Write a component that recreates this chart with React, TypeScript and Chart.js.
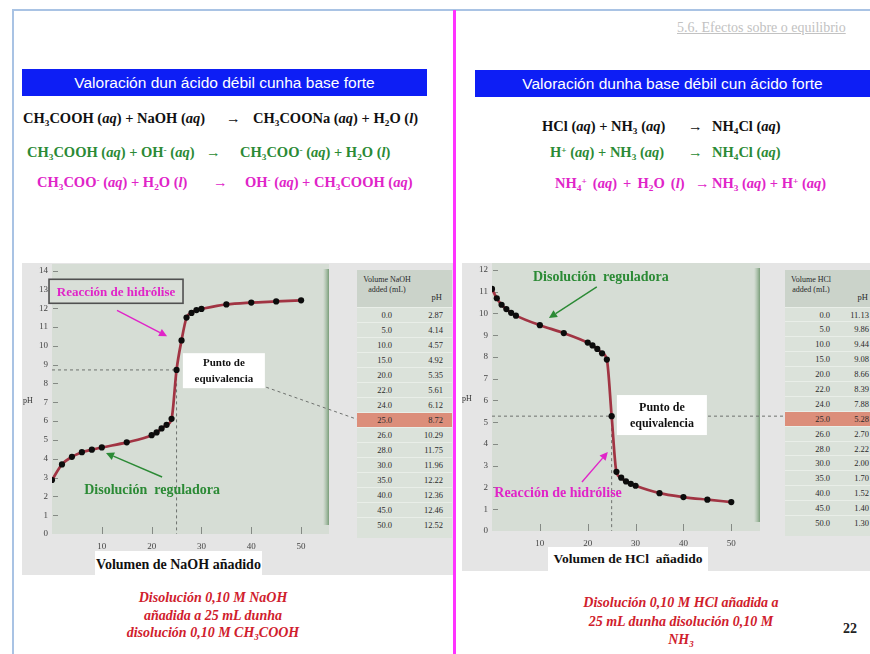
import React, { useEffect, useRef } from 'react';
import { Chart, registerables } from 'chart.js';

Chart.register(...registerables);

// ---------------- data ----------------
const acidVolumes = [0, 2, 4, 6, 8, 10, 15, 20, 21, 22, 23, 24, 25, 26, 27, 28, 29, 30, 35, 40, 45, 50];
const acidPH = [2.87, 3.7, 4.1, 4.35, 4.48, 4.6, 4.87, 5.25, 5.4, 5.61, 5.8, 6.12, 8.72, 10.29, 11.5, 11.75, 11.9, 11.96, 12.2, 12.3, 12.36, 12.42];

const baseVolumes = [0, 1, 2, 3, 4, 5, 10, 15, 20, 21, 22, 23, 24, 25, 26, 27, 28, 29, 30, 35, 40, 45, 50];
const basePH = [11.13, 10.7, 10.4, 10.2, 10.03, 9.9, 9.46, 9.1, 8.66, 8.53, 8.37, 8.17, 7.88, 5.28, 2.72, 2.45, 2.28, 2.17, 2.08, 1.74, 1.56, 1.44, 1.33];

const tableVolumes = ['0.0', '5.0', '10.0', '15.0', '20.0', '22.0', '24.0', '25.0', '26.0', '28.0', '30.0', '35.0', '40.0', '45.0', '50.0'];
const acidTablePH = ['2.87', '4.14', '4.57', '4.92', '5.35', '5.61', '6.12', '8.72', '10.29', '11.75', '11.96', '12.22', '12.36', '12.46', '12.52'];
const baseTablePH = ['11.13', '9.86', '9.44', '9.08', '8.66', '8.39', '7.88', '5.28', '2.70', '2.22', '2.00', '1.70', '1.52', '1.40', '1.30'];
const equivalenceRow = 7;

const equivalenceVolume = 25;
const acidEquivalencePH = 8.72;
const baseEquivalencePH = 5.28;
const xTickStep = 10;
const yTickStep = 1;

// ---------------- styles ----------------
const SERIF = '"Liberation Serif", "Times New Roman", serif';
const SANS = '"Liberation Sans", Arial, sans-serif';
const PLOT_BG = '#d6ddd5';
const PANEL_BG = '#e5e5e5';
const CURVE = '#a13443';
const GREEN = '#2b8a35';
const MAGENTA = '#e024c8';
const DASH = '#6e716e';

type Px = (v: number) => number;

function arrow(ctx: CanvasRenderingContext2D, x1: number, y1: number, x2: number, y2: number, color: string) {
  const ang = Math.atan2(y2 - y1, x2 - x1);
  const hl = 8, hw = 4;
  ctx.save();
  ctx.strokeStyle = color;
  ctx.fillStyle = color;
  ctx.lineWidth = 1.4;
  ctx.beginPath();
  ctx.moveTo(x1, y1);
  ctx.lineTo(x2 - Math.cos(ang) * hl, y2 - Math.sin(ang) * hl);
  ctx.stroke();
  ctx.beginPath();
  ctx.moveTo(x2, y2);
  ctx.lineTo(x2 - Math.cos(ang) * hl - Math.sin(ang) * hw, y2 - Math.sin(ang) * hl + Math.cos(ang) * hw);
  ctx.lineTo(x2 - Math.cos(ang) * hl + Math.sin(ang) * hw, y2 - Math.sin(ang) * hl - Math.cos(ang) * hw);
  ctx.closePath();
  ctx.fill();
  ctx.restore();
}

function dashed(ctx: CanvasRenderingContext2D, pts: number[][]) {
  ctx.save();
  ctx.strokeStyle = DASH;
  ctx.lineWidth = 1;
  ctx.setLineDash([3, 3]);
  ctx.beginPath();
  ctx.moveTo(pts[0][0], pts[0][1]);
  for (let i = 1; i < pts.length; i++) ctx.lineTo(pts[i][0], pts[i][1]);
  ctx.stroke();
  ctx.restore();
}

function label(ctx: CanvasRenderingContext2D, text: string, x: number, y: number, color: string, size: number, weight = 'bold') {
  ctx.save();
  ctx.fillStyle = color;
  ctx.font = `${weight} ${size}px ${SERIF}`;
  ctx.textAlign = 'center';
  ctx.textBaseline = 'middle';
  ctx.fillText(text, x, y);
  ctx.restore();
}

function box(ctx: CanvasRenderingContext2D, cx: number, cy: number, w: number, h: number, fill: string, stroke?: string) {
  ctx.save();
  ctx.fillStyle = fill;
  ctx.fillRect(cx - w / 2, cy - h / 2, w, h);
  if (stroke) {
    ctx.strokeStyle = stroke;
    ctx.lineWidth = 1.6;
    ctx.strokeRect(cx - w / 2, cy - h / 2, w, h);
  }
  ctx.restore();
}

type Drawer = (ctx: CanvasRenderingContext2D, px: Px, py: Px, a: any) => void;

function notesPlugin(id: string, under: Drawer, over: Drawer) {
  return {
    id,
    beforeDraw(chart: any) {
      const { ctx, chartArea: a, scales } = chart;
      const xs = scales.x, ys = scales.y;
      ctx.save();
      ctx.fillStyle = PLOT_BG;
      ctx.fillRect(a.left, a.top, a.right - a.left, a.bottom - a.top);
      const g = ctx.createLinearGradient(a.right - 6, 0, a.right, 0);
      g.addColorStop(0, 'rgba(140,175,140,0)');
      g.addColorStop(1, 'rgba(105,145,105,0.85)');
      ctx.fillStyle = g;
      ctx.fillRect(a.right - 6, a.top + 5, 6, a.bottom - a.top - 14);
      ctx.strokeStyle = '#858a85';
      ctx.lineWidth = 1;
      for (const t of ys.ticks) {
        if (t.value === 0) continue;
        const yy = Math.round(ys.getPixelForValue(t.value)) + 0.5;
        ctx.beginPath();
        ctx.moveTo(a.left + 1, yy);
        ctx.lineTo(a.left + 6, yy);
        ctx.stroke();
      }
      for (const t of xs.ticks) {
        if (t.value === 0) continue;
        const xx = Math.round(xs.getPixelForValue(t.value)) + 0.5;
        ctx.beginPath();
        ctx.moveTo(xx, a.bottom);
        ctx.lineTo(xx, a.bottom - 7);
        ctx.stroke();
      }
      ctx.restore();
    },
    beforeDatasetsDraw(chart: any) {
      const { ctx, chartArea: a, scales } = chart;
      under(ctx, (v) => scales.x.getPixelForValue(v), (v) => scales.y.getPixelForValue(v), a);
    },
    afterDraw(chart: any) {
      const { ctx, chartArea: a, scales } = chart;
      over(ctx, (v) => scales.x.getPixelForValue(v), (v) => scales.y.getPixelForValue(v), a);
    },
  };
}

const tickFont = { family: SERIF, size: 9 };

function buildConfig(o: {
  id: string; vols: number[]; ph: number[]; xMax: number; yMax: number;
  padTop: number; padRight: number; xHeight: number; under: Drawer; over: Drawer;
}) {
  return {
    type: 'line',
    data: {
      datasets: [{
        data: o.vols.map((v, i) => ({ x: v, y: o.ph[i] })),
        borderColor: CURVE,
        borderWidth: 2.7,
        pointRadius: 3.1,
        pointHoverRadius: 3.1,
        pointBackgroundColor: '#0c0c0c',
        pointBorderColor: '#0c0c0c',
        pointBorderWidth: 0,
        cubicInterpolationMode: 'monotone',
        fill: false,
      }],
    },
    options: {
      animation: false,
      responsive: false,
      events: [],
      layout: { padding: { left: 0, top: o.padTop, right: o.padRight, bottom: 0 } },
      plugins: { legend: { display: false }, tooltip: { enabled: false } },
      scales: {
        x: {
          type: 'linear', min: 0, max: o.xMax,
          border: { display: false },
          grid: { display: false, drawTicks: false },
          ticks: {
            stepSize: xTickStep, includeBounds: false, autoSkip: false, maxRotation: 0,
            padding: 7, color: '#444', font: tickFont,
            callback: (v: number) => (v === 0 ? '' : String(v)),
          },
          afterFit: (s: any) => { s.height = o.xHeight; },
        },
        y: {
          type: 'linear', min: 0, max: o.yMax,
          border: { display: false },
          grid: { display: false, drawTicks: false },
          ticks: { stepSize: yTickStep, includeBounds: false, autoSkip: false, padding: 4, color: '#444', font: tickFont },
          afterFit: (s: any) => { s.width = 30; },
        },
      },
    },
    plugins: [notesPlugin(o.id, o.under, o.over)],
  };
}

const acidUnder: Drawer = (ctx, px, py) => {
  dashed(ctx, [[px(0), py(acidEquivalencePH)], [px(equivalenceVolume), py(acidEquivalencePH)], [px(equivalenceVolume), py(0)]]);
};
const acidOver: Drawer = (ctx, px, py, a) => {
  box(ctx, px(12.85), py(12.9), 134, 24, '#d9dfd8', '#505050');
  label(ctx, 'Reacción de hidrólise', px(12.85), py(12.9) + 1, MAGENTA, 13);
  arrow(ctx, px(13.05), py(11.89), px(23.1), py(10.51), MAGENTA);
  dashed(ctx, [[px(43.0), py(7.8)], [px(61.2), py(6.1)]]);
  box(ctx, px(34.5), py(8.68), 82, 35, '#ffffff');
  label(ctx, 'Punto de', px(34.5), py(8.68) - 7.5, '#111', 11);
  label(ctx, 'equivalencia', px(34.5), py(8.68) + 8.5, '#111', 11);
  label(ctx, 'Disolución  reguladora', px(20.1), py(2.34), GREEN, 14);
  arrow(ctx, px(22.1), py(3.03), px(10.84), py(4.3), GREEN);
  label(ctx, 'pH', a.left - 24, py(7.1), '#333', 8, 'normal');
};

const baseUnder: Drawer = (ctx, px, py) => {
  dashed(ctx, [[px(0), py(baseEquivalencePH)], [px(61.2), py(baseEquivalencePH)]]);
  dashed(ctx, [[px(equivalenceVolume), py(baseEquivalencePH)], [px(equivalenceVolume), py(0)]]);
};
const baseOver: Drawer = (ctx, px, py, a) => {
  box(ctx, px(35.5), py(5.33), 90, 40, '#ffffff');
  label(ctx, 'Punto de', px(35.5), py(5.33) - 7, '#111', 12);
  label(ctx, 'equivalencia', px(35.5), py(5.33) + 8.5, '#111', 12);
  label(ctx, 'Disolución  reguladora', px(22.75), py(11.68), GREEN, 14);
  arrow(ctx, px(21.9), py(11.22), px(11.9), py(9.79), GREEN);
  label(ctx, 'Reacción de hidrólise', px(13.8), py(1.75), MAGENTA, 14);
  arrow(ctx, px(18.8), py(2.25), px(24.2), py(3.63), MAGENTA);
  label(ctx, 'pH', a.left - 25, py(6.07), '#333', 8, 'normal');
};

function ChartCanvas(props: { left: number; top: number; width: number; height: number; make: () => any }) {
  const ref = useRef<HTMLCanvasElement>(null);
  useEffect(() => {
    const chart = new Chart(ref.current as HTMLCanvasElement, props.make());
    return () => chart.destroy();
  }, []);
  return (
    <canvas
      ref={ref}
      width={props.width}
      height={props.height}
      style={{ position: 'absolute', left: props.left, top: props.top, width: props.width, height: props.height }}
    />
  );
}

const Sub = ({ c }: { c: string }) => <span style={{ fontSize: '0.64em', position: 'relative', top: '0.3em' }}>{c}</span>;
const Sup = ({ c }: { c: string }) => <span style={{ fontSize: '0.64em', position: 'relative', top: '-0.45em' }}>{c}</span>;
const Aq = () => <>(<i>aq</i>)</>;
const Liq = () => <>(<i>l</i>)</>;

function Eq({ y, color, parts }: { y: number; color: string; parts: [number, React.ReactNode, number?][] }) {
  return (
    <>
      {parts.map(([x, node, ws], i) => (
        <span key={i} style={{ position: 'absolute', left: x, top: y - 10, lineHeight: '20px', color, fontWeight: 'bold', fontSize: 14.5, fontFamily: SERIF, whiteSpace: 'nowrap', wordSpacing: ws ? ws + 'px' : undefined }}>
          {node}
        </span>
      ))}
    </>
  );
}

function DataTable(props: { left: number; top: number; header: [string, string]; headerW: number; volRight: number; phRight: number; phHeadRight: number; rowH: number; values: string[] }) {
  const W = 95;
  return (
    <div style={{ position: 'absolute', left: props.left, top: props.top, width: W, background: '#dbe2da', paddingBottom: 6, fontFamily: SERIF, color: '#2a2a2a' }}>
      <div style={{ position: 'relative', height: 36.5, background: '#cbd3ca' }}>
        <div style={{ position: 'absolute', left: 0, width: props.headerW, top: 4.5, textAlign: 'center', lineHeight: '10px', fontSize: 8 }}>
          {props.header[0]}<br />{props.header[1]}
        </div>
        <div style={{ position: 'absolute', right: props.phHeadRight, top: 22, lineHeight: '10px', fontSize: 8.5 }}>pH</div>
      </div>
      {tableVolumes.map((v, i) => (
        <div key={v} style={{ position: 'relative', height: props.rowH, boxSizing: 'border-box', borderTop: '1px solid #e9eee8', background: i === equivalenceRow ? '#dc8e7a' : 'transparent', fontSize: 8.5 }}>
          <span style={{ position: 'absolute', right: W - props.volRight, top: 0, lineHeight: props.rowH + 'px' }}>{v}</span>
          <span style={{ position: 'absolute', right: W - props.phRight, top: 0, lineHeight: props.rowH + 'px' }}>{props.values[i]}</span>
        </div>
      ))}
    </div>
  );
}

export default function App() {
  return (
    <div style={{ position: 'absolute', left: 0, top: 0, width: 870, height: 654, overflow: 'hidden', background: '#fff', fontFamily: SERIF }}>
      {/* frame */}
      <div style={{ position: 'absolute', left: 12, top: 9, width: 858, height: 2, background: '#a9c3e4' }} />
      <div style={{ position: 'absolute', left: 12, top: 9, width: 2, height: 645, background: '#a9c3e4' }} />
      <div style={{ position: 'absolute', left: 453, top: 10, width: 3, height: 644, background: '#ff33ff' }} />

      <div style={{ position: 'absolute', left: 677, top: 19, fontSize: 14, color: '#c2c2c2', textDecoration: 'underline', whiteSpace: 'nowrap', lineHeight: '18px' }}>
        5.6. Efectos sobre o equilibrio
      </div>

      {/* title bars */}
      <div style={{ position: 'absolute', left: 22, top: 69, width: 405, height: 27, background: '#0d1ef5', color: '#fff', fontFamily: SANS, fontSize: 15.5, lineHeight: '27px', textAlign: 'center' }}>
        Valoración dun ácido débil cunha base forte
      </div>
      <div style={{ position: 'absolute', left: 475, top: 70, width: 395, height: 27, background: '#0d1ef5', color: '#fff', fontFamily: SANS, fontSize: 15.5, lineHeight: '27px', textAlign: 'center' }}>
        Valoración dunha base débil cun ácido forte
      </div>

      {/* left equations */}
      <Eq y={118} color="#111" parts={[
        [23, <>CH<Sub c="3" />COOH <Aq /> + NaOH <Aq /></>],
        [226, <>→</>],
        [253, <>CH<Sub c="3" />COONa <Aq /> + H<Sub c="2" />O <Liq /></>],
      ]} />
      <Eq y={152} color={GREEN} parts={[
        [27, <>CH<Sub c="3" />COOH <Aq /> + OH<Sup c="-" /> <Aq /></>],
        [206, <>→</>],
        [240, <>CH<Sub c="3" />COO<Sup c="-" /> <Aq /> + H<Sub c="2" />O <Liq /></>],
      ]} />
      <Eq y={182} color={MAGENTA} parts={[
        [37, <>CH<Sub c="3" />COO<Sup c="-" /> <Aq /> + H<Sub c="2" />O <Liq /></>],
        [213, <>→</>],
        [245, <>OH<Sup c="-" /> <Aq /> + CH<Sub c="3" />COOH <Aq /></>],
      ]} />

      {/* right equations */}
      <Eq y={126} color="#111" parts={[
        [542, <>HCl <Aq /> + NH<Sub c="3" /> <Aq /></>],
        [688, <>→</>],
        [712, <>NH<Sub c="4" />Cl <Aq /></>],
      ]} />
      <Eq y={152} color={GREEN} parts={[
        [550, <>H<Sup c="+" /> <Aq /> + NH<Sub c="3" /> <Aq /></>],
        [688, <>→</>],
        [712, <>NH<Sub c="4" />Cl <Aq /></>],
      ]} />
      <Eq y={183} color={MAGENTA} parts={[
        [555, <>NH<Sub c="4" /><Sup c="+" /> <Aq /> + H<Sub c="2" />O <Liq /></>, 2.5],
        [695, <>→</>],
        [712, <>NH<Sub c="3" /> <Aq /> + H<Sup c="+" /> <Aq /></>],
      ]} />

      {/* chart panels */}
      <div style={{ position: 'absolute', left: 22, top: 263, width: 431, height: 312, background: PANEL_BG }} />
      <div style={{ position: 'absolute', left: 462, top: 263, width: 408, height: 308, background: PANEL_BG }} />

      <ChartCanvas left={22} top={252} width={431} height={324} make={() => buildConfig({
        id: 'acidNotes', vols: acidVolumes, ph: acidPH, xMax: 55.6, yMax: 14.35,
        padTop: 12, padRight: 124, xHeight: 42, under: acidUnder, over: acidOver,
      })} />
      <ChartCanvas left={462} top={251} width={408} height={320} make={() => buildConfig({
        id: 'baseNotes', vols: baseVolumes, ph: basePH, xMax: 56, yMax: 12.32,
        padTop: 12, padRight: 110, xHeight: 40, under: baseUnder, over: baseOver,
      })} />

      <DataTable left={357} top={270} header={['Volume NaOH', 'added (mL)']} headerW={60} volRight={35} phRight={86} phHeadRight={10} rowH={15} values={acidTablePH} />
      <DataTable left={785} top={270} header={['Volume HCl', 'added (mL)']} headerW={52} volRight={45} phRight={84} phHeadRight={12} rowH={14.9} values={baseTablePH} />

      {/* axis titles */}
      <div style={{ position: 'absolute', left: 95, top: 551, width: 167, height: 27, background: '#fff', fontWeight: 'bold', fontSize: 14, lineHeight: '27px', textAlign: 'center', color: '#111', whiteSpace: 'nowrap' }}>
        Volumen de NaOH añadido
      </div>
      <div style={{ position: 'absolute', left: 548, top: 547, width: 160, height: 24, background: '#fff', fontWeight: 'bold', fontSize: 13.5, lineHeight: '24px', textAlign: 'center', color: '#111', whiteSpace: 'pre' }}>
        {'Volumen de HCl  añadido'}
      </div>

      {/* captions */}
      <div style={{ position: 'absolute', left: 83, top: 589, width: 260, textAlign: 'center', fontWeight: 'bold', fontStyle: 'italic', fontSize: 14, lineHeight: '17.5px', color: '#d0202c' }}>
        Disolución 0,10 M NaOH<br />añadida a 25 mL dunha<br />disolución 0,10 M CH<Sub c="3" />COOH
      </div>
      <div style={{ position: 'absolute', left: 556, top: 594, width: 250, textAlign: 'center', fontWeight: 'bold', fontStyle: 'italic', fontSize: 14, lineHeight: '18.5px', color: '#d0202c' }}>
        Disolución 0,10 M HCl añadida a<br />25 mL dunha disolución 0,10 M<br />NH<Sub c="3" />
      </div>

      <div style={{ position: 'absolute', left: 843, top: 620, fontWeight: 'bold', fontSize: 14, lineHeight: '18px', color: '#222' }}>22</div>
    </div>
  );
}
